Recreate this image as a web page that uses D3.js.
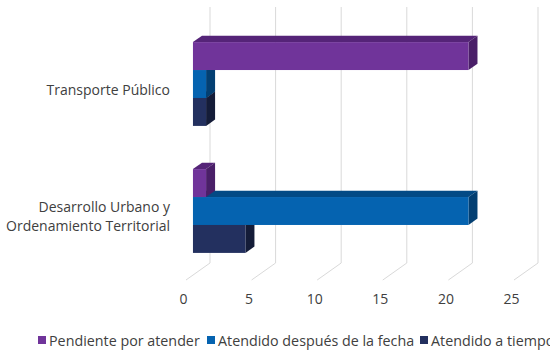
<!DOCTYPE html>
<html>
<head>
<meta charset="utf-8">
<script src="https://cdn.jsdelivr.net/npm/d3@7"></script>
<style>
  html, body { margin: 0; padding: 0; background: #fff; }
  svg { display: block; font-family: "Open Sans", sans-serif; }
</style>
</head>
<body>
<svg id="chart" width="550" height="353"></svg>
<script>
// Categories top to bottom, series drawn inside each category band
const categories = ["Transporte Público", "Desarrollo Urbano y Ordenamiento Territorial"];
const categoryLines = [["Transporte Público"], ["Desarrollo Urbano y", "Ordenamiento Territorial"]];
const seriesNames = ["Pendiente por atender", "Atendido después de la fecha", "Atendido a tiempo"];
const pendiente = [21, 1];
const despues = [1, 21];
const aTiempo = [1, 4];
const seriesValues = [pendiente, despues, aTiempo];
const tickValues = [0, 5, 10, 15, 20, 25];

const colors = [
  { front: "#70349a", top: "#552478", side: "#4a1f68" },
  { front: "#0563b0", top: "#034a85", side: "#033f72" },
  { front: "#23305f", top: "#1a2447", side: "#141c38" }
];

const svg = d3.select("#chart");

// Floor front edge scale; depth vector runs up and to the right
const x = d3.scaleLinear().domain([0, 25]).range([186, 514]);
const depth = { dx: 24, dy: -17 };
const floorY = 280;
const wallTop = 7;
const barDepthStart = 0.29, barDepthSize = 0.375;

// Back wall gridlines and floor diagonals
const grid = svg.append("g").attr("stroke", "#d9d9d9").attr("stroke-width", 1).attr("fill", "none");
tickValues.forEach(v => {
  const bx = x(v) + depth.dx, by = floorY + depth.dy;
  grid.append("line").attr("x1", bx).attr("x2", bx).attr("y1", wallTop).attr("y2", by);
  grid.append("line").attr("x1", x(v)).attr("y1", floorY).attr("x2", bx).attr("y2", by);
});

// Bars sit in a plane offset into the depth
const ox = depth.dx * barDepthStart;
const bdx = depth.dx * barDepthSize, bdy = depth.dy * barDepthSize;

const y = d3.scaleBand().domain(categories).range([20.5, 274.5]).paddingInner(0.34).paddingOuter(0.17);
const ys = d3.scaleBand().domain(seriesNames).range([0, y.bandwidth()]);

const bars = svg.append("g");
categories.forEach((cat, ci) => {
  // draw lower bars first so upper front faces cover hidden tops
  for (let si = seriesNames.length - 1; si >= 0; si--) {
    const v = seriesValues[si][ci];
    const x0 = x(0) + ox, x1 = x(v) + ox;
    const y0 = y(cat) + ys(seriesNames[si]);
    const y1 = y0 + ys.bandwidth();
    const c = colors[si];
    const g = bars.append("g");
    g.append("path")
      .attr("d", `M${x0},${y0}L${x1},${y0}L${x1 + bdx},${y0 + bdy}L${x0 + bdx},${y0 + bdy}Z`)
      .attr("fill", c.top);
    g.append("path")
      .attr("d", `M${x1},${y0}L${x1 + bdx},${y0 + bdy}L${x1 + bdx},${y1 + bdy}L${x1},${y1}Z`)
      .attr("fill", c.side);
    g.append("rect")
      .attr("x", x0).attr("y", y0)
      .attr("width", x1 - x0).attr("height", y1 - y0)
      .attr("fill", c.front);
  }
});

// Category labels
const catG = svg.append("g").attr("fill", "#404040").attr("font-size", "14px").attr("text-anchor", "end");
categories.forEach((cat, ci) => {
  const lines = categoryLines[ci];
  const cy = y(cat) + y.bandwidth() / 2;
  const lh = 19;
  lines.forEach((t, li) => {
    catG.append("text")
      .attr("x", 170)
      .attr("y", cy + (li - (lines.length - 1) / 2) * lh + 10.5)
      .text(t);
  });
});

// Value axis along the floor front
const axis = d3.axisBottom(x).tickValues(tickValues).tickSize(0).tickPadding(0);
const axG = svg.append("g").attr("transform", `translate(-3,${floorY + 14})`).call(axis);
axG.select(".domain").remove();
axG.selectAll("text").attr("fill", "#404040").attr("font-size", "14px")
  .attr("font-family", "'Open Sans', sans-serif").attr("dy", "0.71em");

// Legend
const legend = svg.append("g").attr("font-size", "14.3px").attr("fill", "#404040");
const legendX = [38, 207, 420];
seriesNames.forEach((name, i) => {
  const lg = legend.append("g").attr("transform", `translate(${legendX[i]},341)`);
  lg.append("rect").attr("x", 0).attr("y", -5).attr("width", 8).attr("height", 8).attr("fill", colors[i].front);
  lg.append("text").attr("x", 11).attr("y", 4.5).text(name);
});
</script>
</body>
</html>
